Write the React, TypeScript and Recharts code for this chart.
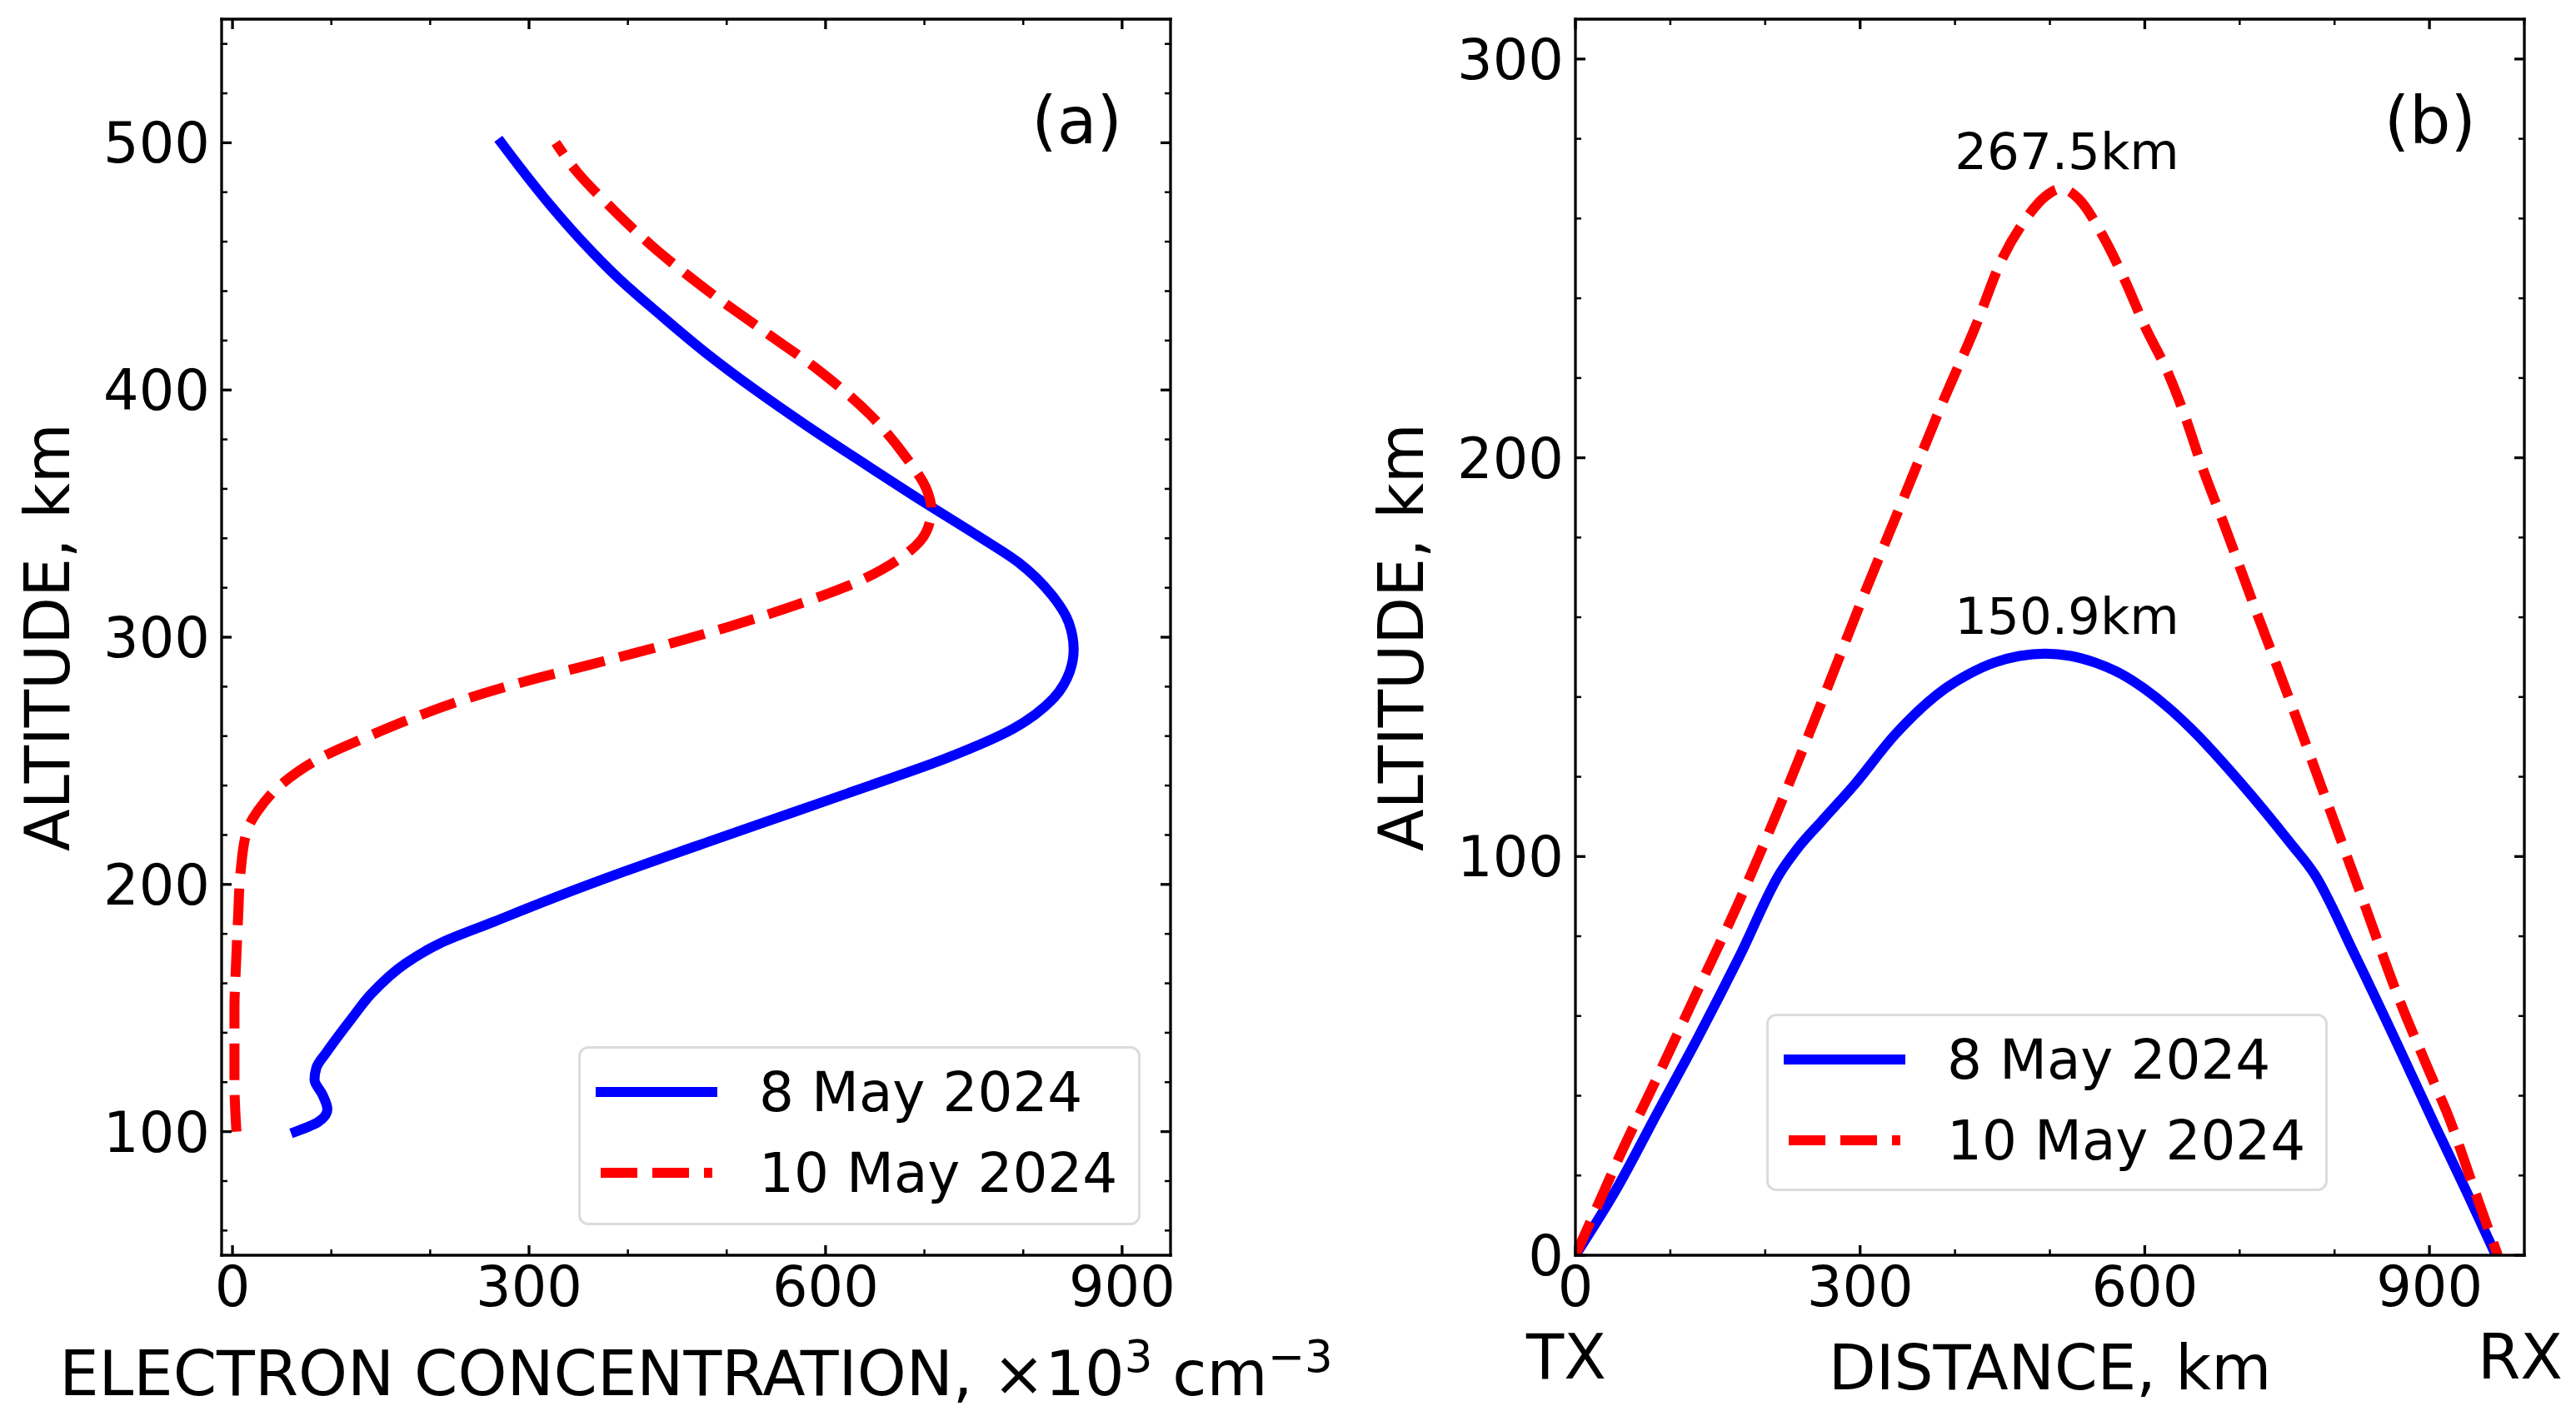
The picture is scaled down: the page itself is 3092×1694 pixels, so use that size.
import React from 'react';
import { LineChart, Line, XAxis, YAxis, Legend, ReferenceDot } from 'recharts';

const FONT = '"DejaVu Sans", Verdana, sans-serif';

// (a) electron concentration profiles, x10^3 cm^-3 vs altitude km
const alt8May = [100, 104, 109, 115, 121, 126, 132, 137, 146, 156, 168, 176, 185, 195, 205, 218, 229, 240, 251, 263, 275, 286, 295, 306, 317, 330, 341, 355, 370, 385, 400, 415, 430, 445, 460, 475, 490, 500];
const ne8May = [64, 87, 96, 91, 83, 85, 95, 104, 121, 141, 175, 209, 265, 328, 395, 487, 566, 645, 722, 790, 830, 847, 851, 846, 829, 796, 754, 698, 640, 583, 529, 479, 434, 391, 354, 321, 291, 272];
const alt10May = [100, 120, 150, 167, 186, 206, 222, 230, 241, 252, 260, 268, 275, 282, 289, 296, 304, 313, 322, 331, 339, 346, 352, 359, 373, 390, 408, 424, 441, 457, 475, 488, 500];
const ne10May = [4, 2, 2, 3.5, 5.6, 8.4, 15, 26, 51, 93, 138, 187, 236, 295, 363, 430, 500, 570, 630, 672, 696, 705, 707, 703, 681, 645, 593, 537, 478, 428, 380, 349, 327];

// (b) ray paths, distance km vs altitude km
const dist8May = [0, 43, 87, 130, 173, 216, 234, 260, 294, 337, 389, 415, 441, 468, 495, 522, 548, 575, 600, 625, 649, 701, 753, 779, 822, 866, 905, 940, 970];
const ray8May = [0, 16.5, 36, 55, 75, 96, 102, 109, 118, 130.6, 142, 145.8, 148.6, 150.3, 150.9, 150.3, 148.6, 145.8, 142, 137.3, 132, 118.5, 103.5, 95.5, 75, 53, 33, 15.5, 0];
const dist10May = [0, 30, 43, 87, 130, 173, 216, 260, 303, 346, 389, 420, 450, 475, 495, 512, 530, 555, 580, 600, 625, 643, 660, 684, 715, 750, 790, 830, 870, 900, 923, 945, 972];
const ray10May = [0, 16, 23, 45, 67, 89, 113, 139, 165, 190, 215, 232, 250, 260, 265.5, 267.5, 265, 256, 244, 233, 221, 210, 198, 183, 163, 141, 115, 89, 63, 46, 33, 18, 0];

const peakText = ['267.5km', '150.9km'];
const peakX = [518, 518];
const peakY = [272.5, 155.9];

const seriesNames = ['8 May 2024', '10 May 2024'];
const seriesColors = ['#0000ff', '#ff0000'];
const seriesDash = ['', '44 18'];

const ticksAx = [0, 100, 200, 300, 400, 500, 600, 700, 800, 900];
const majorAx = [0, 300, 600, 900];
const ticksAy = [60, 80, 100, 120, 140, 160, 180, 200, 220, 240, 260, 280, 300, 320, 340, 360, 380, 400, 420, 440, 460, 480, 500, 520, 540];
const majorAy = [100, 200, 300, 400, 500];
const ticksBx = [0, 100, 200, 300, 400, 500, 600, 700, 800, 900, 1000];
const majorBx = [0, 300, 600, 900];
const ticksBy = [0, 20, 40, 60, 80, 100, 120, 140, 160, 180, 200, 220, 240, 260, 280, 300];
const majorBy = [0, 100, 200, 300];

const profile8 = alt8May.map((alt, i) => ({ x: ne8May[i], alt }));
const profile10 = alt10May.map((alt, i) => ({ x: ne10May[i], alt }));
const path8 = dist8May.map((x, i) => ({ x, alt: ray8May[i] }));
const path10 = dist10May.map((x, i) => ({ x, alt: ray10May[i] }));

const H = 1694;
const AXIS = { stroke: '#000', strokeWidth: 3.3, strokeLinecap: 'square' as const };

function tickMark(side: string, majors: number[], showLabel: boolean) {
  return (props: any) => {
    const { x, y, payload } = props;
    const v = payload.value;
    const major = majors.includes(v);
    const len = major ? 12 : 7;
    let x2 = x;
    let y2 = y;
    if (side === 'left') x2 = x + len;
    if (side === 'right') x2 = x - len;
    if (side === 'top') y2 = y + len;
    if (side === 'bottom') y2 = y - len;
    return (
      <g>
        <line x1={x} y1={y} x2={x2} y2={y2} stroke="#000" strokeWidth={major ? 3.3 : 2.5} />
        {showLabel && major && side === 'left' && (
          <text x={x - 14} y={y + 24} textAnchor="end" fontSize={67} fontFamily={FONT} fill="#000">{v}</text>
        )}
        {showLabel && major && side === 'bottom' && (
          <text x={x} y={y + 61} textAnchor="middle" fontSize={67} fontFamily={FONT} fill="#000">{v}</text>
        )}
      </g>
    );
  };
}

function yTitle(props: any) {
  const vb = props.viewBox;
  const x = vb.x + vb.width - 183;
  const y = vb.y + vb.height / 2;
  return (
    <text x={x} y={y} transform={`rotate(-90, ${x}, ${y})`} textAnchor="middle" fontSize={74} fontFamily={FONT} fill="#000">
      ALTITUDE, km
    </text>
  );
}

function panelTag(tag: string) {
  return (props: any) => {
    const vb = props.viewBox;
    return (
      <text x={vb.x + vb.width - 58} y={vb.y + vb.height + 149} textAnchor="end" fontSize={78} fontFamily={FONT} fill="#000">
        {tag}
      </text>
    );
  };
}

function xTitleA(props: any) {
  const vb = props.viewBox;
  return (
    <text x={vb.x + vb.width / 2} y={vb.y + 168} textAnchor="middle" fontSize={75} fontFamily={FONT} fill="#000">
      ELECTRON CONCENTRATION, ×10<tspan dy={-28} fontSize={53}>3</tspan>
      <tspan dy={28}> cm</tspan>
      <tspan dy={-28} fontSize={53}>−3</tspan>
    </text>
  );
}

function xTitleB(props: any) {
  const vb = props.viewBox;
  return (
    <g fontSize={74} fontFamily={FONT} fill="#000">
      <text x={vb.x + vb.width / 2} y={vb.y + 161} textAnchor="middle">DISTANCE, km</text>
      <text x={vb.x - 11} y={vb.y + 148} textAnchor="middle">TX</text>
      <text x={vb.x + vb.width - 5} y={vb.y + 148} textAnchor="middle">RX</text>
    </g>
  );
}

function LegendBox() {
  return (
    <div
      style={{
        position: 'relative',
        width: '100%',
        height: '100%',
        boxSizing: 'border-box',
        border: '3px solid #dcdcdc',
        borderRadius: 12,
        background: 'rgba(255,255,255,0.8)',
        fontFamily: FONT,
      }}
    >
      {seriesNames.map((name, i) => (
        <div
          key={name}
          style={{ position: 'absolute', left: 0, top: (i === 0 ? 55 : 152) - 43, height: 80, display: 'flex', alignItems: 'center' }}
        >
          <svg width={180} height={20} style={{ display: 'block' }}>
            <line
              x1={24}
              y1={10}
              x2={158}
              y2={10}
              stroke={seriesColors[i]}
              strokeWidth={12}
              strokeDasharray={seriesDash[i] || undefined}
              strokeLinecap={seriesDash[i] ? 'butt' : 'square'}
            />
          </svg>
          <span style={{ marginLeft: 34, fontSize: 66, color: '#000', whiteSpace: 'nowrap' }}>{name}</span>
        </div>
      ))}
    </div>
  );
}

function Frame(props: {
  xDomain: [number, number];
  yDomain: [number, number];
  xTicks: number[];
  xMajor: number[];
  yTicks: number[];
  yMajor: number[];
  tag: string;
  xTitle: (p: any) => any;
}) {
  const { xDomain, yDomain, xTicks, xMajor, yTicks, yMajor, tag, xTitle } = props;
  const common = { type: 'number' as const, allowDataOverflow: true, interval: 0 as const, tickLine: false, tickSize: 0, tickMargin: 0, axisLine: AXIS };
  return [
    <XAxis key="xb" xAxisId="bottom" orientation="bottom" dataKey="x" domain={xDomain} ticks={xTicks} tick={tickMark('bottom', xMajor, true)} height={100} label={xTitle} {...common} />,
    <XAxis key="xt" xAxisId="top" orientation="top" dataKey="x" domain={xDomain} ticks={xTicks} tick={tickMark('top', xMajor, false)} height={1} label={panelTag(tag)} {...common} />,
    <YAxis key="yl" yAxisId="left" orientation="left" domain={yDomain} ticks={yTicks} tick={tickMark('left', yMajor, true)} width={120} label={yTitle} {...common} />,
    <YAxis key="yr" yAxisId="right" orientation="right" domain={yDomain} ticks={yTicks} tick={tickMark('right', yMajor, false)} width={1} {...common} />,
  ];
}

function lineProps(i: number) {
  return {
    xAxisId: 'bottom',
    yAxisId: 'left',
    dataKey: 'alt',
    name: seriesNames[i],
    stroke: seriesColors[i],
    strokeWidth: 12,
    strokeDasharray: seriesDash[i] || undefined,
    strokeLinecap: (seriesDash[i] ? 'butt' : 'square') as any,
    strokeLinejoin: 'round' as const,
    dot: false,
    activeDot: false,
    isAnimationActive: false,
  };
}

export default function App() {
  return (
    <div style={{ position: 'absolute', left: 0, top: 0, width: 3092, height: 1694, background: '#fff', fontFamily: FONT }}>
      <div style={{ position: 'absolute', left: 0, top: 0 }}>
        <LineChart width={1700} height={H} margin={{ top: 22, right: 294, bottom: 87, left: 146 }}>
          {Frame({
            xDomain: [-11, 949],
            yDomain: [50, 550],
            xTicks: ticksAx,
            xMajor: majorAx,
            yTicks: ticksAy,
            yMajor: majorAy,
            tag: '(a)',
            xTitle: xTitleA,
          })}
          <Line {...lineProps(0)} data={profile8} type="monotoneY" />
          <Line {...lineProps(1)} data={profile10} type="monotoneY" />
          <Legend
            layout="vertical"
            align="center"
            verticalAlign="middle"
            width={675}
            height={215}
            wrapperStyle={{ left: 694, top: 1256, width: 675, height: 215 }}
            content={() => <LegendBox />}
          />
        </LineChart>
      </div>
      <div style={{ position: 'absolute', left: 1546, top: 0 }}>
        <LineChart width={1546} height={H} margin={{ top: 22, right: 61, bottom: 87, left: 225 }}>
          {Frame({
            xDomain: [0, 1000],
            yDomain: [0, 310],
            xTicks: ticksBx,
            xMajor: majorBx,
            yTicks: ticksBy,
            yMajor: majorBy,
            tag: '(b)',
            xTitle: xTitleB,
          })}
          <Line {...lineProps(0)} data={path8} type="monotone" />
          <Line {...lineProps(1)} data={path10} type="monotone" />
          {peakText.map((t, i) => (
            <ReferenceDot
              key={t}
              xAxisId="bottom"
              yAxisId="left"
              x={peakX[i]}
              y={peakY[i]}
              r={0}
              fill="none"
              stroke="none"
              label={(p: any) => {
                const vb = p.viewBox || { x: p.x, y: p.y, width: 0, height: 0 };
                return (
                  <text x={vb.x + vb.width / 2} y={vb.y + vb.height / 2} textAnchor="middle" fontSize={61} fontFamily={FONT} fill="#000">
                    {t}
                  </text>
                );
              }}
            />
          ))}
          <Legend
            layout="vertical"
            align="center"
            verticalAlign="middle"
            width={674}
            height={213}
            wrapperStyle={{ left: 574, top: 1217, width: 674, height: 213 }}
            content={() => <LegendBox />}
          />
        </LineChart>
      </div>
    </div>
  );
}
